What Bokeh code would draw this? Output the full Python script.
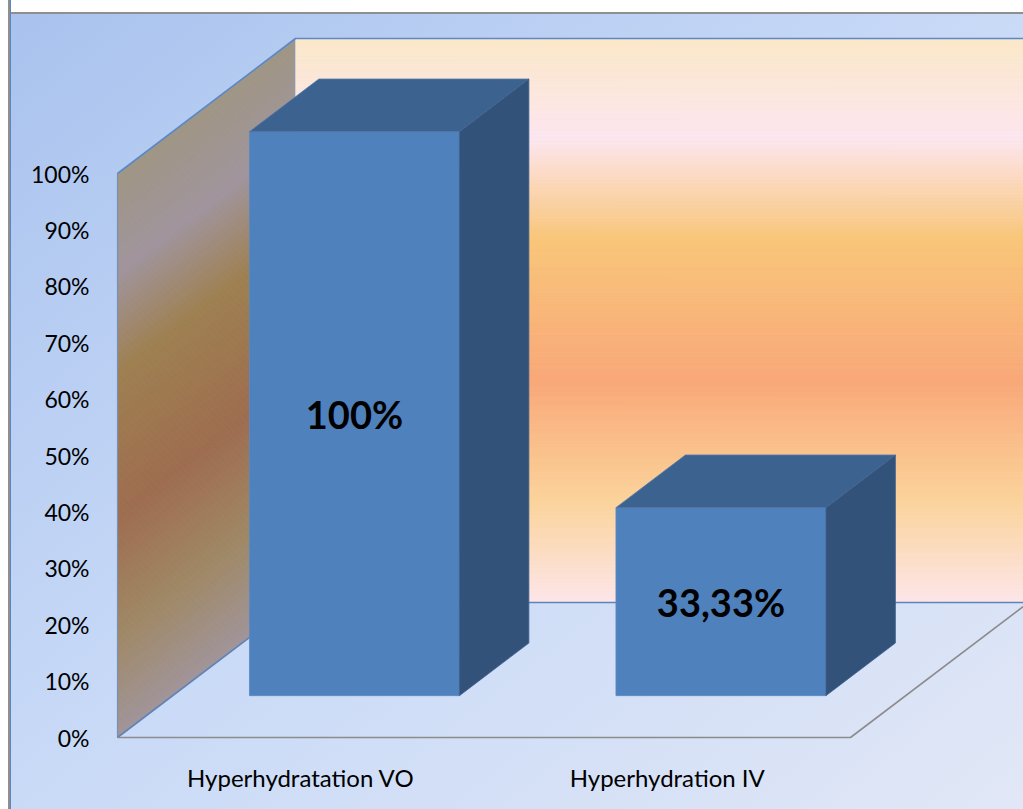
import numpy as np
from bokeh.plotting import figure
from bokeh.models import FixedTicker, Range1d
from bokeh.core.properties import value
from bokeh.embed import file_html
from bokeh.resources import INLINE

# ---- data -------------------------------------------------------------
categories = ["Hyperhydratation VO", "Hyperhydration IV"]
shares = [100.0, 33.33]
y_ticks = [0, 10, 20, 30, 40, 50, 60, 70, 80, 90, 100]
y_tick_labels = [f"{t}%" for t in y_ticks]

# ---- oblique 3D box layout (pixels) -----------------------------------
W, H = 1023, 809
LEFT, BOTTOM = 100, 52          # border space for the axes
ORIGIN_X, ORIGIN_Y = 117, 737   # pixel of (category 0, 0 %)
SLOT_PX = 366.5                 # pixels per category slot
PCT_PX = 5.64                   # pixels per percent
DEPTH_X_PX, DEPTH_Y_PX = 178, 135

DX = DEPTH_X_PX / SLOT_PX       # depth vector in data units
DY = DEPTH_Y_PX / PCT_PX
N_CAT = len(categories)

BAR_W = 0.573                   # bar width in slots
BAR_D0, BAR_D1 = 0.31, 0.70     # bar front/back as fraction of depth
BAR_SHIFT = -0.004              # small offset of bars inside each slot

# wall gradient (percent of wall height -> colour)
stop_pct = [0, 18.2, 39.4, 64.7, 82.3, 100]
stop_rgb = np.array([
    (253, 230, 234), (251, 211, 154), (249, 168, 120),
    (249, 198, 122), (253, 230, 239), (251, 232, 201)], dtype=float)
side_shade = np.array([0.635, 0.645, 0.655])


def hexcol(rgb):
    r, g, b = [int(round(min(255, max(0, c)))) for c in rgb]
    return f"#{r:02x}{g:02x}{b:02x}"


def wall_color(pct, shade=None):
    rgb = np.array([np.interp(pct, stop_pct, stop_rgb[:, k]) for k in range(3)])
    if shade is not None:
        rgb = rgb * shade
    return hexcol(rgb)


x_range = Range1d((LEFT - ORIGIN_X) / SLOT_PX, (W - ORIGIN_X) / SLOT_PX)
y_range = Range1d((ORIGIN_Y - (H - BOTTOM)) / PCT_PX, ORIGIN_Y / PCT_PX)

p = figure(width=W, height=H, x_range=x_range, y_range=y_range,
           output_backend="svg", toolbar_location=None, title=None,
           min_border_left=LEFT, min_border_right=0, min_border_top=0,
           min_border_bottom=BOTTOM)
p.border_fill_color = None
p.background_fill_color = None
p.outline_line_color = None
p.grid.visible = False
p.styles = {
    "background": (
        "linear-gradient(to right, #ffffff 0px, #ffffff 8px, #8f8f8f 8px, "
        "#8f8f8f 10px, #5b86c0 10px, #5b86c0 11px, transparent 11px), "
        "linear-gradient(to bottom, #ffffff 0px, #ffffff 12px, #8f8f8f 12px, "
        "#8f8f8f 14px, transparent 14px), "
        "linear-gradient(to bottom right, #a8c2ee 0%, #c9daf7 50%, #e1e7f6 100%)"
    )
}

# ---- walls --------------------------------------------------------------
edges = np.linspace(0, 100, 161)
v0, v1 = edges[:-1], edges[1:]
mids = (v0 + v1) / 2
back_cols = [wall_color(m) for m in mids]
side_cols = [wall_color(m, side_shade) for m in mids]

p.quad(left=DX, right=N_CAT + DX + 0.05, bottom=v0 + DY, top=v1 + DY,
       fill_color=back_cols, line_color=back_cols, line_width=0.8)

p.patches(xs=[[0, 0, DX, DX] for _ in mids],
          ys=[[a, b, b + DY, a + DY] for a, b in zip(v0, v1)],
          fill_color=side_cols, line_color=side_cols, line_width=0.8)

# wall and floor outlines
p.line([DX, DX], [DY, 100 + DY], line_color="#c8d2e4", line_width=1)
p.line([0, 0], [0, 100], line_color="#7890b4", line_width=1.2)
p.line([0, DX, N_CAT + DX + 0.05], [100, 100 + DY, 100 + DY],
       line_color="#5b88c8", line_width=1.6)
p.line([0, DX, N_CAT + DX + 0.05], [0, DY, DY],
       line_color="#5f84b8", line_width=1.6)
p.line([0, N_CAT, N_CAT + DX], [0, 0, DY],
       line_color="#8c8c8c", line_width=1.6)

# ---- bars -----------------------------------------------------------------
fx, fy, tx, ty, sx, sy = [], [], [], [], [], []
lab_x, lab_y, lab_t = [], [], []
for i, v in enumerate(shares):
    c = i + 0.5 + BAR_SHIFT
    xl, xr = c - BAR_W / 2, c + BAR_W / 2
    ax, ay = BAR_D0 * DX, BAR_D0 * DY
    bx, by = BAR_D1 * DX, BAR_D1 * DY
    fx.append([xl + ax, xr + ax, xr + ax, xl + ax])
    fy.append([ay, ay, v + ay, v + ay])
    tx.append([xl + ax, xr + ax, xr + bx, xl + bx])
    ty.append([v + ay, v + ay, v + by, v + by])
    sx.append([xr + ax, xr + bx, xr + bx, xr + ax])
    sy.append([ay, by, v + by, v + ay])
    lab_x.append(c + ax)
    lab_y.append(v / 2 + ay)
    txt = f"{v:.0f}%" if float(v).is_integer() else f"{v:.2f}".replace(".", ",") + "%"
    lab_t.append(txt)

p.patches(fx, fy, fill_color="#4f81bd", line_color="#5a8ac4", line_width=0.8)
p.patches(tx, ty, fill_color="#3c6290", line_color="#5579a8", line_width=0.8)
p.patches(sx, sy, fill_color="#32527a", line_color="#3f6190", line_width=0.8)

p.text(x=lab_x, y=lab_y, text=lab_t, text_font=value("Lato"),
       text_font_style="bold", text_font_size="38px", text_color="#000000",
       text_align="center", text_baseline="middle")

# ---- axes -------------------------------------------------------------------
ya = p.yaxis[0]
ya.ticker = FixedTicker(ticks=y_ticks)
ya.major_label_overrides = dict(zip(y_ticks, y_tick_labels))
ya.axis_line_color = None
ya.major_tick_line_color = None
ya.minor_tick_line_color = None
ya.major_tick_out = 0
ya.major_label_standoff = LEFT - 89
ya.major_label_text_font = "Lato"
ya.major_label_text_font_size = "23px"
ya.major_label_text_color = "#000000"

cat_pos = [i + 0.5 for i in range(N_CAT)]
xa = p.xaxis[0]
xa.ticker = FixedTicker(ticks=cat_pos)
xa.major_label_overrides = dict(zip(cat_pos, categories))
xa.axis_line_color = None
xa.major_tick_line_color = None
xa.minor_tick_line_color = None
xa.major_tick_out = 0
xa.major_label_standoff = 5
xa.major_label_text_font = "Lato"
xa.major_label_text_font_size = "24px"
xa.major_label_text_color = "#000000"

open("out.html", "w").write(file_html(p, INLINE))
